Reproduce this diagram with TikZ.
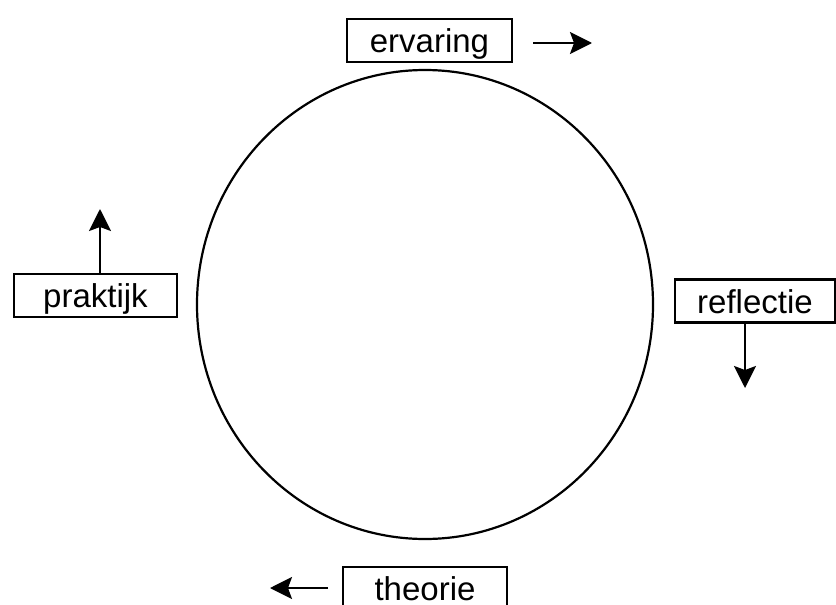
\documentclass[tikz,border=0pt]{standalone}
\usepackage{fontspec}
\setmainfont{Liberation Sans}
\usetikzlibrary{arrows.meta}
\tikzset{
  lbl/.style={draw, line width=2.2pt, inner sep=0pt, minimum height=43pt,
    text height=29pt, text depth=5pt, font=\fontsize{33}{36}\selectfont},
  flow/.style={line width=2.2pt, -{Stealth[length=22pt,width=22pt,inset=4pt]}},
  ring/.style={line width=2.2pt}
}
\begin{document}
\begin{tikzpicture}[x=1pt,y=-1pt]
\useasboundingbox (0,0) rectangle (836,605);
\clip (0,0) rectangle (836,605);
\draw[ring] (425,304.5) ellipse [x radius=228, y radius=234.5];
\node[lbl, minimum width=165pt] (erv) at (429.5,40.5) {ervaring};
\node[lbl, minimum width=163pt] (prak) at (95.5,295.5) {praktijk};
\node[lbl, minimum width=160pt] (refl) at (755,301) {reflectie};
\node[lbl, minimum width=164pt] (theo) at (425,588.5) {theorie};
\coordinate (ervA) at (533,43);
\coordinate (ervB) at (592,43);
\coordinate (prakB) at (100,209);
\coordinate (reflB) at (745,388);
\coordinate (theoA) at (328,588);
\coordinate (theoB) at (270,588);
\draw[flow] (ervA) -- (ervB);
\draw[flow] ([xshift=4.5pt]prak.north) -- (prakB);
\draw[flow] ([xshift=-10pt]refl.south) -- (reflB);
\draw[flow] (theoA) -- (theoB);
\end{tikzpicture}
\end{document}
